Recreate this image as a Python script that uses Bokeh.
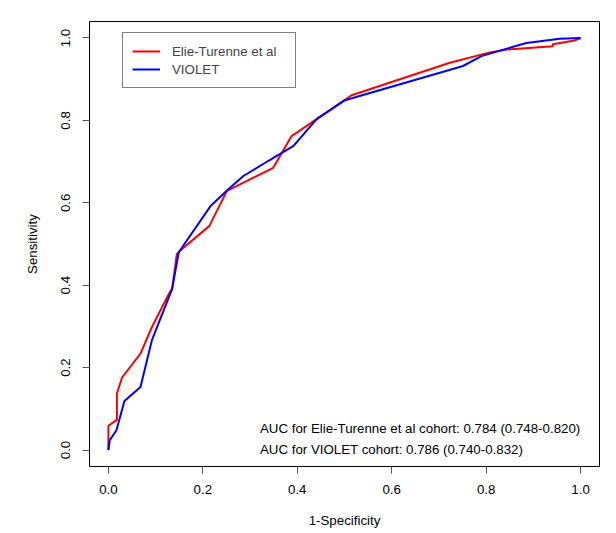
from bokeh.plotting import figure
from bokeh.models import (Range1d, FixedTicker, NumeralTickFormatter, Legend,
                          LegendItem, Label)
from bokeh.embed import file_html
from bokeh.resources import INLINE

# ROC curve for Elie-Turenne et al cohort
red_x = [0, 0, 0.018, 0.018, 0.029, 0.068, 0.092, 0.128, 0.135, 0.145, 0.156,
         0.214, 0.251, 0.349, 0.388, 0.441, 0.515, 0.723, 0.808, 0.843, 0.941,
         0.941, 0.987, 1.0]
red_y = [0, 0.059, 0.073, 0.137, 0.176, 0.234, 0.298, 0.379, 0.391, 0.476, 0.488,
         0.544, 0.629, 0.685, 0.762, 0.803, 0.861, 0.940, 0.965, 0.972, 0.980,
         0.985, 0.994, 1.0]

# ROC curve for VIOLET cohort
blue_x = [0, 0.003, 0.017, 0.034, 0.068, 0.092, 0.135, 0.149, 0.217, 0.254,
          0.286, 0.339, 0.392, 0.441, 0.501, 0.751, 0.79, 0.885, 0.956, 1.0]
blue_y = [0, 0.024, 0.048, 0.119, 0.153, 0.266, 0.391, 0.48, 0.593, 0.633,
          0.665, 0.702, 0.738, 0.803, 0.849, 0.932, 0.956, 0.988, 0.998, 1.0]

series_names = ["Elie-Turenne et al", "VIOLET"]
tick_values = [0.0, 0.2, 0.4, 0.6, 0.8, 1.0]
auc_texts = ["AUC for Elie-Turenne et al cohort: 0.784 (0.748-0.820)",
             "AUC for VIOLET cohort: 0.786 (0.740-0.832)"]

FONT = "Liberation Sans"
FS = "13.3px"

p = figure(width=616, height=533, output_backend="svg", toolbar_location=None,
           x_range=Range1d(-0.04, 1.04), y_range=Range1d(-0.04, 1.04),
           min_border_left=89, min_border_right=17, min_border_top=21,
           min_border_bottom=67)
p.grid.visible = False
p.outline_line_color = "black"
p.outline_line_width = 1
p.outline_line_alpha = 1.0
p.background_fill_color = "white"
p.border_fill_color = "white"

r1 = p.line(red_x, red_y, line_color="#FF0000", line_width=2)
r2 = p.line(blue_x, blue_y, line_color="#0000FF", line_width=2)

for ax in (p.xaxis[0], p.yaxis[0]):
    ax.ticker = FixedTicker(ticks=tick_values)
    ax.formatter = NumeralTickFormatter(format="0.0")
    ax.axis_line_color = None
    ax.major_tick_out = 7
    ax.major_tick_in = 0
    ax.minor_tick_out = 0
    ax.minor_tick_in = 0
    ax.major_tick_line_color = "#555555"
    ax.major_label_text_font = FONT
    ax.major_label_text_font_size = FS
    ax.major_label_text_color = "black"
    ax.axis_label_text_font = FONT
    ax.axis_label_text_font_size = FS
    ax.axis_label_text_font_style = "normal"
    ax.axis_label_text_color = "black"

p.xaxis.axis_label = "1-Specificity"
p.yaxis.axis_label = "Sensitivity"
p.xaxis.major_label_standoff = 11
p.xaxis.axis_label_standoff = 16
p.yaxis.major_label_orientation = "vertical"
p.yaxis.major_label_standoff = 12
p.yaxis.axis_label_standoff = 19

legend = Legend(items=[LegendItem(label=series_names[0], renderers=[r1]),
                       LegendItem(label=series_names[1], renderers=[r2])],
                location=(33, 378))
legend.padding = 9
legend.spacing = 0
legend.glyph_width = 28
legend.glyph_height = 18
legend.label_height = 18
legend.label_width = 114
legend.label_standoff = 12
legend.label_text_font = FONT
legend.label_text_font_size = FS
legend.border_line_color = "black"
legend.border_line_width = 1
legend.background_fill_alpha = 1.0
legend.margin = 0
p.add_layout(legend)

for txt, yv in zip(auc_texts, [0.053, 0.002]):
    p.add_layout(Label(x=0.321, y=yv, text=txt, text_font=FONT,
                       text_font_size=FS, text_baseline="middle",
                       text_color="black"))

open("out.html", "w").write(file_html(p, INLINE))
